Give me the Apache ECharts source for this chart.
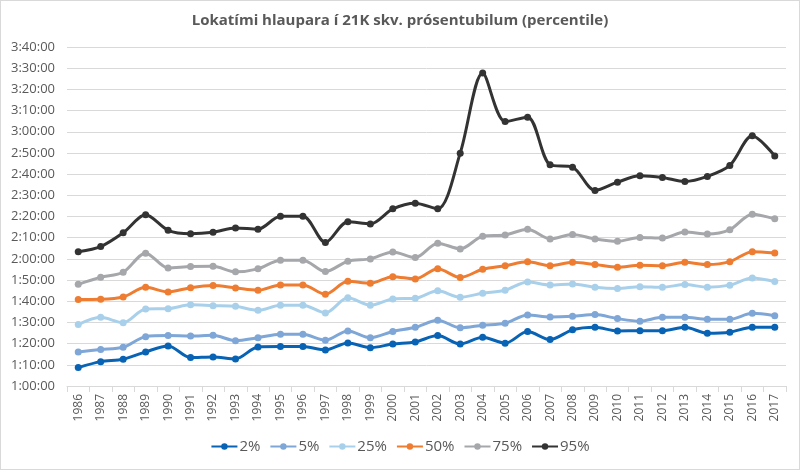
<!DOCTYPE html>
<html>
<head>
<meta charset="utf-8">
<script src="https://cdn.jsdelivr.net/npm/echarts@6/dist/echarts.min.js"></script>
<style>
  html, body { margin: 0; padding: 0; background: #fff; }
  #chart { width: 798px; height: 468px; border: 1px solid #d9d9d9; }
</style>
</head>
<body>
<div id="chart"></div>
<script>
// ár
var years = ['1986','1987','1988','1989','1990','1991','1992','1993','1994','1995','1996',
  '1997','1998','1999','2000','2001','2002','2003','2004','2005','2006','2007','2008',
  '2009','2010','2011','2012','2013','2014','2015','2016','2017'];

// tímar í mínútum
var p2 = [68.7,71.5,72.6,76.1,78.9,73.4,73.7,72.8,78.4,78.6,78.6,77.0,80.3,78.1,79.8,80.8,
  83.8,79.8,83.0,80.2,85.7,81.9,86.5,87.7,86.0,86.1,86.1,87.7,84.9,85.4,87.7,87.7];
var p5 = [76.1,77.2,78.3,83.3,83.8,83.6,83.9,81.4,82.8,84.4,84.4,81.6,86.0,82.8,85.7,87.7,
  91.0,87.5,88.7,89.6,93.5,92.6,92.9,93.7,91.8,90.6,92.4,92.4,91.5,91.5,94.3,93.2];
var p25 = [89.0,92.4,89.9,96.4,96.5,98.3,97.9,97.6,95.7,98.1,98.1,94.5,101.6,98.1,101.1,101.4,
  104.9,101.9,103.8,105.2,109.1,107.7,108.2,106.6,106.0,106.9,106.6,107.9,106.6,107.6,111.0,109.3];
var p50 = [100.8,100.9,102.0,106.6,104.4,106.4,107.4,106.3,105.2,107.7,107.7,103.3,109.4,108.5,111.6,110.5,
  115.3,111.2,115.1,116.8,118.6,116.8,118.4,117.3,116.1,117.0,116.8,118.4,117.3,118.7,123.4,122.8];
var p75 = [108.0,111.3,113.7,122.7,115.7,116.4,116.5,113.9,115.3,119.4,119.4,114.0,118.9,120.0,123.3,120.6,
  127.4,124.7,130.7,131.3,134.0,129.4,131.5,129.4,128.3,130.1,129.8,132.7,131.7,133.8,141.1,138.9];
var p95 = [123.4,125.8,132.3,140.8,133.5,131.9,132.6,134.6,134.0,140.1,140.1,127.7,137.5,136.5,143.6,146.3,
  143.6,169.9,207.7,184.8,186.9,164.4,163.3,152.3,156.2,159.2,158.4,156.5,158.9,164.1,178.1,168.6];

var names = ['2%','5%','25%','50%','75%','95%'];
var colors = ['#0863b5','#7ea6d6','#a9d0ea','#ee7d31','#a5a7aa','#333333'];
var sets = [p2, p5, p25, p50, p75, p95];

function hms(v) {
  var s = Math.round(v * 60);
  var h = Math.floor(s / 3600);
  var m = Math.floor((s % 3600) / 60);
  var sec = s % 60;
  return h + ':' + (m < 10 ? '0' : '') + m + ':' + (sec < 10 ? '0' : '') + sec;
}

var font = '"Open Sans", "Noto Sans", sans-serif';
var myChart = echarts.init(document.getElementById('chart'));

var series = [];
for (var i = 0; i < sets.length; i++) {
  series.push({
    name: names[i],
    type: 'line',
    data: sets[i],
    smooth: 0.3,
    symbol: 'circle',
    symbolSize: 7,
    lineStyle: { width: 3, color: colors[i] },
    itemStyle: { color: colors[i] }
  });
}

var option = {
  animation: false,
  color: colors,
  title: {
    text: 'Lokatími hlaupara í 21K skv. prósentubilum (percentile)',
    left: 'center',
    top: 7,
    textStyle: { fontFamily: font, fontSize: 15, fontWeight: 'bold', color: '#595959' }
  },
  legend: {
    bottom: 10,
    left: 'center',
    itemWidth: 26,
    itemHeight: 8,
    itemGap: 9,
    textStyle: { fontFamily: font, fontSize: 15, color: '#595959', padding: [0, 0, 0, -3] },
    data: names
  },
  grid: { left: 66, right: 13, top: 46, bottom: 83 },
  xAxis: {
    type: 'category',
    data: years,
    boundaryGap: true,
    axisLine: { lineStyle: { color: '#d9d9d9', width: 1 } },
    axisTick: { show: true, length: 6, lineStyle: { color: '#d9d9d9' } },
    axisLabel: { rotate: 90, interval: 0, fontFamily: font, fontSize: 12, color: '#595959', margin: 8 }
  },
  yAxis: {
    type: 'value',
    min: 60,
    max: 220,
    interval: 10,
    axisLine: { show: false },
    axisTick: { show: false },
    splitLine: { lineStyle: { color: '#d9d9d9', width: 1 } },
    axisLabel: { formatter: hms, fontFamily: font, fontSize: 13, color: '#595959', margin: 12 }
  },
  series: series
};

myChart.setOption(option);
</script>
</body>
</html>
